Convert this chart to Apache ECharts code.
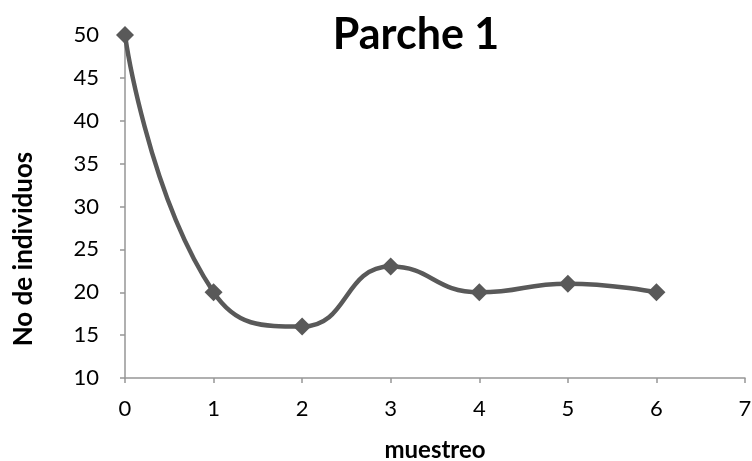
<!DOCTYPE html>
<html>
<head>
<meta charset="utf-8">
<script src="https://cdn.jsdelivr.net/npm/echarts@6/dist/echarts.min.js"></script>
<style>html,body{margin:0;padding:0;background:#fff}#c{width:752px;height:461px}</style>
</head>
<body>
<div id="c"></div>
<script>
// Muestreo number and the count of individuals in patch 1
const muestreo = [0, 1, 2, 3, 4, 5, 6];
const individuos = [50, 20, 16, 23, 20, 21, 20];
const xTicks = [0, 1, 2, 3, 4, 5, 6, 7];
const yTicks = [10, 15, 20, 25, 30, 35, 40, 45, 50];

const FONT = 'Lato, "Open Sans", sans-serif';
const AXIS_GREY = '#969696';
const chart = echarts.init(document.getElementById('c'), null, {renderer: 'canvas'});
chart.setOption({
  animation: false,
  backgroundColor: '#fff',
  title: {
    text: 'Parche 1',
    left: 411, top: 9, textAlign: 'center',
    textStyle: {fontFamily: FONT, fontWeight: 'bold', fontSize: 43, color: '#000'}
  },
  grid: {left: 125, right: 7, top: 35, bottom: 83, containLabel: false, outerBoundsMode: 'none'},
  graphic: [{
    type: 'text',
    x: 24, y: 249,
    rotation: Math.PI / 2,
    style: {
      text: 'No de individuos',
      font: 'bold 26px ' + FONT,
      fill: '#000',
      textAlign: 'center',
      textVerticalAlign: 'middle'
    }
  }],
  xAxis: {
    type: 'value', min: xTicks[0], max: xTicks[xTicks.length - 1], interval: 1,
    name: 'muestreo', nameLocation: 'middle', nameGap: 60,
    nameTextStyle: {fontFamily: FONT, fontWeight: 'bold', fontSize: 24, color: '#000'},
    axisLine: {lineStyle: {color: AXIS_GREY, width: 1.5}},
    axisTick: {show: true, length: 5, inside: false, lineStyle: {color: AXIS_GREY, width: 1.5}},
    axisLabel: {fontFamily: FONT, fontSize: 22, color: '#000', margin: 20},
    splitLine: {show: false}
  },
  yAxis: {
    type: 'value', min: yTicks[0], max: yTicks[yTicks.length - 1], interval: 5,
    axisLine: {show: true, lineStyle: {color: AXIS_GREY, width: 1.5}},
    axisTick: {show: true, length: 5, lineStyle: {color: AXIS_GREY, width: 1.5}},
    axisLabel: {fontFamily: FONT, fontSize: 22, color: '#000', margin: 26},
    splitLine: {show: false}
  },
  series: [{
    type: 'line',
    data: muestreo.map((m, i) => [m, individuos[i]]),
    smooth: 0.5,
    lineStyle: {color: '#595959', width: 4.5},
    symbol: 'diamond', symbolSize: 18,
    itemStyle: {color: '#595959'}
  }]
});
</script>
</body>
</html>
